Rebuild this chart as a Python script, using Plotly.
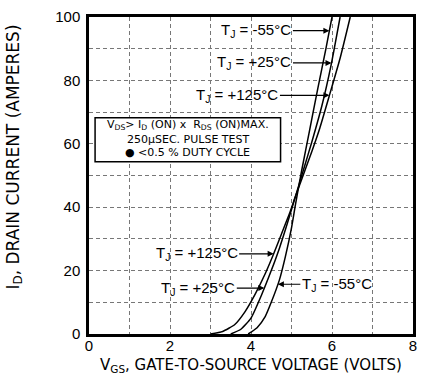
import numpy as np
import plotly.graph_objects as go

# Transfer characteristics (VGS in volts, ID in amperes)
vgs_125 = [3.0, 3.3, 3.6, 3.85, 4.1, 4.35, 4.55, 4.75, 4.95, 5.1, 5.3, 5.5, 5.7, 5.93, 6.2, 6.45]
id_125 = [0, 0.8, 3, 7, 12.5, 19, 25, 31.5, 38, 43.5, 50.5, 57.5, 65, 75, 87, 100]

vgs_25 = [3.5, 3.75, 4.0, 4.25, 4.5, 4.7, 4.9, 5.1, 5.3, 5.5, 5.75, 5.98, 6.2]
id_25 = [0, 1.5, 5, 12, 20, 27, 35, 43.5, 52, 60.5, 72, 85, 100]

vgs_m55 = [3.93, 4.15, 4.35, 4.5, 4.7, 4.85, 5.0, 5.1, 5.25, 5.45, 5.65, 5.85, 6.0]
id_m55 = [0, 2, 5.5, 10, 17, 24.5, 33.5, 41, 51.5, 64.5, 77.5, 90, 100]

x_ticks = [0, 1, 2, 3, 4, 5, 6, 7, 8]
x_ticktext = ["0", "", "2", "", "4", "", "6", "", "8"]
y_ticks = [0, 10, 20, 30, 40, 50, 60, 70, 80, 90, 100]
y_ticktext = ["0", "", "20", "", "40", "", "60", "", "80", "", "100"]

SANS = "Liberation Sans, Arial, sans-serif"
WIDE = "DejaVu Sans, sans-serif"

fig = go.Figure()
for xs, ys in [(vgs_125, id_125), (vgs_25, id_25), (vgs_m55, id_m55)]:
    fig.add_trace(go.Scatter(x=xs, y=ys, mode="lines",
                             line=dict(color="black", width=1.5, shape="spline", smoothing=0.5),
                             showlegend=False, hoverinfo="skip"))

# Curve labels: (text, curve, id level for arrow tip, text offset px)
labels = [
    ("T<sub>J</sub> = -55°C", (vgs_m55, id_m55), 95.7, -73),
    ("T<sub>J</sub> = +25°C", (vgs_25, id_25), 85.5, -77),
    ("T<sub>J</sub> = +125°C", (vgs_125, id_125), 75.3, -92),
    ("T<sub>J</sub> = +125°C", (vgs_125, id_125), 25.3, -77),
    ("T<sub>J</sub> = +25°C", (vgs_25, id_25), 14.5, -66),
    ("T<sub>J</sub> = -55°C", (vgs_m55, id_m55), 15.7, 59),
]
font = dict(family=SANS, size=15, color="black")
for text, (xs, ys), yl, off in labels:
    xt = float(np.interp(yl, ys, xs))
    fig.add_annotation(x=xt, y=yl, xref="x", yref="y", text=text, showarrow=True,
                       ax=off, ay=0, arrowhead=2, arrowsize=1, arrowwidth=1.2,
                       arrowcolor="black", font=font, borderpad=1)

# Test-condition box
fig.add_shape(type="rect", x0=0.15, x1=4.73, y0=54.3, y1=68.2, xref="x", yref="y",
              line=dict(color="black", width=1.5), fillcolor="white", layer="above")
bfont = dict(family=WIDE, size=11, color="black")
fig.add_annotation(x=2.44, y=66.0, xref="x", yref="y", showarrow=False, font=bfont,
                   text="V<sub>DS</sub>> I<sub>D</sub> (ON) x  R<sub>DS</sub> (ON)MAX.")
fig.add_annotation(x=2.44, y=61.3, xref="x", yref="y", showarrow=False, font=bfont,
                   text="250µSEC. PULSE TEST")
fig.add_annotation(x=2.44, y=57.3, xref="x", yref="y", showarrow=False, font=bfont,
                   text="● <0.5 % DUTY CYCLE")

# Axis titles
fig.add_annotation(x=0.5, y=0, xref="paper", yref="paper", yshift=-31, showarrow=False,
                   font=dict(family=WIDE, size=15, color="black"),
                   text="V<sub>GS</sub>, GATE-TO-SOURCE VOLTAGE (VOLTS)",
                   xanchor="center", yanchor="middle")
fig.add_annotation(x=0, y=0.5, xref="paper", yref="paper", xshift=-75, yshift=18,
                   showarrow=False, font=dict(family=WIDE, size=17, color="black"),
                   text="I<sub>D</sub>, DRAIN CURRENT (AMPERES)", textangle=-90,
                   xanchor="center", yanchor="middle")

axis_common = dict(showgrid=True, gridcolor="#777777", gridwidth=0.6, griddash="4px,3px",
                   showline=True, linecolor="black", linewidth=2.5, mirror=True,
                   zeroline=False, ticks="", tickfont=dict(family=SANS, size=15, color="black"))
fig.update_xaxes(range=[0, 8], tickvals=x_ticks, ticktext=x_ticktext,
                 ticklabelstandoff=-4, **axis_common)
fig.update_yaxes(range=[0, 100], tickvals=y_ticks, ticktext=y_ticktext,
                 ticklabelstandoff=3, **axis_common)
fig.update_layout(width=425, height=375, margin=dict(l=89, r=8, t=10, b=41),
                  plot_bgcolor="white", paper_bgcolor="white")
fig.write_html("out.html")
